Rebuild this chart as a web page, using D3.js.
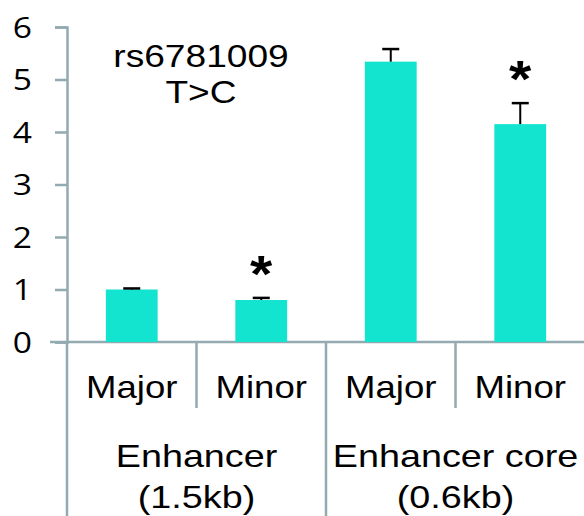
<!DOCTYPE html>
<html>
<head>
<meta charset="utf-8">
<script src="https://cdn.jsdelivr.net/npm/d3@7"></script>
<style>
  html, body { margin: 0; padding: 0; background: #fff; }
  svg { display: block; }
</style>
</head>
<body>
<svg id="chart" width="584" height="516"></svg>
<script>
// Luciferase activity per construct / allele
const categories = ["Major", "Minor", "Major", "Minor"];
const groups = ["Enhancer|(1.5kb)", "Enhancer core|(0.6kb)"];
const values = [1.0, 0.8, 5.34, 4.15];
const errors = [0.02, 0.04, 0.24, 0.40];
const significant = [false, true, false, true];
const yTicks = [0, 1, 2, 3, 4, 5, 6];
const title = ["rs6781009", "T>C"];

const W = 584, H = 516;
const plotLeft = 67, plotRight = 585, plotTop = 27, plotBottom = 342;
const axisColor = "#93aab1";
const barColor = "#12e4cf";
const stretch = 1.18;

const svg = d3.select("#chart");

const x = d3.scaleBand()
  .domain(d3.range(categories.length))
  .range([plotLeft, plotRight])
  .padding(0);

const y = d3.scaleLinear().domain([0, 6]).range([plotBottom, plotTop]);

const barW = x.bandwidth() * 0.4;

// y axis
const yAxis = svg.append("g")
  .attr("transform", `translate(${plotLeft},0)`)
  .call(d3.axisLeft(y).tickValues(yTicks).tickSize(12).tickSizeOuter(12).tickFormat(d3.format("d")));
yAxis.select(".domain").attr("stroke", axisColor).attr("stroke-width", 2.5);
yAxis.selectAll(".tick line").attr("stroke", axisColor).attr("stroke-width", 2.5);
yAxis.selectAll(".tick text").remove();
yAxis.selectAll(".tick").append("text")
  .attr("transform", `translate(-35,10) scale(1.12,1)`)
  .attr("text-anchor", "end")
  .attr("fill", "#000")
  .style("font-family", "'Open Sans', sans-serif")
  .style("font-size", "30px")
  .text(d => d);

// x baseline
svg.append("line")
  .attr("x1", 50).attr("x2", W)
  .attr("y1", y(0)).attr("y2", y(0))
  .attr("stroke", axisColor).attr("stroke-width", 2.5);

// category dividers: short between alleles, long between groups
const dividers = d3.range(categories.length).map(i => ({
  x: x(i),
  long: i % 2 === 0
}));
svg.selectAll("line.div").data(dividers).enter().append("line")
  .attr("class", "div")
  .attr("x1", d => d.x).attr("x2", d => d.x)
  .attr("y1", y(0))
  .attr("y2", d => d.long ? H : 408)
  .attr("stroke", axisColor).attr("stroke-width", 2.5);

// bars
svg.selectAll("rect.bar").data(values).enter().append("rect")
  .attr("class", "bar")
  .attr("x", (d, i) => x(i) + (x.bandwidth() - barW) / 2)
  .attr("y", d => y(d))
  .attr("width", barW)
  .attr("height", d => y(0) - y(d))
  .attr("fill", barColor);

// upper error bars
const eb = svg.selectAll("g.err").data(values).enter().append("g").attr("class", "err");
eb.append("line")
  .attr("x1", (d, i) => x(i) + x.bandwidth() / 2)
  .attr("x2", (d, i) => x(i) + x.bandwidth() / 2)
  .attr("y1", d => y(d))
  .attr("y2", (d, i) => y(d + errors[i]))
  .attr("stroke", "#000").attr("stroke-width", 2);
eb.append("line")
  .attr("x1", (d, i) => x(i) + x.bandwidth() / 2 - 8.5)
  .attr("x2", (d, i) => x(i) + x.bandwidth() / 2 + 8.5)
  .attr("y1", (d, i) => y(d + errors[i]))
  .attr("y2", (d, i) => y(d + errors[i]))
  .attr("stroke", "#000").attr("stroke-width", 2.5);

// significance marks
svg.selectAll("text.star").data(values.map((v, i) => ({ v, i })).filter(d => significant[d.i]))
  .enter().append("text")
  .attr("class", "star")
  .attr("transform", d => `translate(${x(d.i) + x.bandwidth() / 2},${y(d.v + errors[d.i]) - 6}) scale(1.1,1)`)
  .attr("text-anchor", "middle")
  .style("font-family", "'Liberation Sans', Arial, sans-serif")
  .style("font-weight", "bold")
  .style("font-size", "52px")
  .text("*");

// category labels
svg.selectAll("text.cat").data(categories).enter().append("text")
  .attr("class", "cat")
  .attr("transform", (d, i) => `translate(${x(i) + x.bandwidth() / 2},398) scale(${stretch},1)`)
  .attr("text-anchor", "middle")
  .style("font-family", "'Liberation Sans', Arial, sans-serif")
  .style("font-size", "31px")
  .text(d => d);

// group labels
groups.forEach((g, gi) => {
  const cx = (x(gi * 2) + x(gi * 2 + 1) + x.bandwidth()) / 2;
  g.split("|").forEach((line, li) => {
    svg.append("text")
      .attr("transform", `translate(${cx},${467 + li * 41}) scale(${stretch},1)`)
      .attr("text-anchor", "middle")
      .style("font-family", "'Liberation Sans', Arial, sans-serif")
      .style("font-size", "32px")
      .text(line);
  });
});

// SNP title
title.forEach((t, i) => {
  svg.append("text")
    .attr("transform", `translate(201,${67 + i * 36}) scale(1.16,1)`)
    .attr("text-anchor", "middle")
    .style("font-family", "'Liberation Sans', Arial, sans-serif")
    .style("font-size", "32px")
    .text(t);
});
</script>
</body>
</html>
